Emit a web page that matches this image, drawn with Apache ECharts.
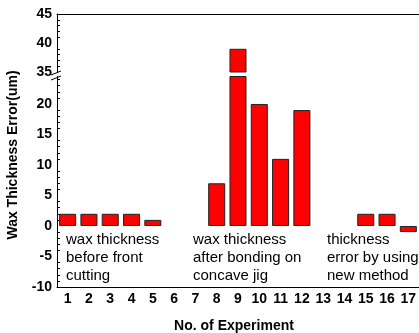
<!DOCTYPE html>
<html>
<head>
<meta charset="utf-8">
<script src="https://cdn.jsdelivr.net/npm/echarts@6/dist/echarts.min.js"></script>
<style>
  html, body { margin: 0; padding: 0; background: #fff; }
  #chart { width: 419px; height: 333px; }
</style>
</head>
<body>
<div id="chart"></div>
<script>
// experiment numbers and measured wax thickness error (um)
var experiments = ['1', '2', '3', '4', '5', '6', '7', '8', '9', '10', '11', '12', '13', '14', '15', '16', '17'];
var thicknessError = [2, 2, 2, 2, 1, '-', '-', 7, 39, 20, 11, 19, '-', '-', 2, 2, -1];
var lowerTicks = [-10, -5, 0, 5, 10, 15, 20];
var upperTicks = [35, 40, 45];
var groupNotes = [
  'wax thickness\nbefore front\ncutting',
  'wax thickness\nafter bonding on\nconcave jig',
  'thickness\nerror by using\nnew method'
];

// axis break: lower part -10..24.5, upper part 35..45
var lowerMax = 24.5;
var upperMin = 35;
var upperValues = thicknessError.map(function (v) { return (v !== '-' && v > upperMin) ? v : '-'; });

var font = 'Liberation Sans, Arial, sans-serif';

var chart = echarts.init(document.getElementById('chart'));

var tickLabel = function (ticks) {
  return {
    fontFamily: font, fontWeight: 'bold', fontSize: 14, color: '#000', margin: 5,
    formatter: function (v) { return ticks.indexOf(v) >= 0 ? String(v) : ''; }
  };
};

var option = {
  animation: false,
  grid: [
    { left: 57, right: -4.5, top: 14, height: 58 },
    { left: 57, right: -4.5, top: 76.5, bottom: 46 }
  ],
  xAxis: [
    { gridIndex: 0, type: 'category', data: experiments, position: 'top',
      axisLine: { lineStyle: { color: '#000', width: 1 } },
      axisTick: { show: false }, axisLabel: { show: false } },
    { gridIndex: 1, type: 'category', data: experiments, position: 'bottom',
      axisLine: { onZero: false, lineStyle: { color: '#000', width: 1 } },
      axisTick: { inside: true, length: 3, lineStyle: { color: '#000' } },
      axisLabel: { fontFamily: font, fontWeight: 'bold', fontSize: 14, color: '#000', margin: 5 } },
    { gridIndex: 1, type: 'category', data: experiments, position: 'bottom',
      axisLine: { show: false },
      axisTick: { inside: true, alignWithLabel: true, length: 4, lineStyle: { color: '#000' } },
      axisLabel: { show: false } }
  ],
  yAxis: [
    { gridIndex: 0, type: 'value', min: upperMin, max: 45, interval: 5,
      splitLine: { show: false },
      axisLine: { show: true, lineStyle: { color: '#000' } },
      axisTick: { inside: true, length: 5, lineStyle: { color: '#000' } },
      minorTick: { show: true, splitNumber: 5, length: 3, lineStyle: { color: '#000' } },
      axisLabel: tickLabel(upperTicks) },
    { gridIndex: 1, type: 'value', min: -10, max: lowerMax, interval: 5,
      splitLine: { show: false },
      axisLine: { show: true, onZero: false, lineStyle: { color: '#000' } },
      axisTick: { inside: true, length: 5, lineStyle: { color: '#000' } },
      minorTick: { show: true, splitNumber: 5, length: 3, lineStyle: { color: '#000' } },
      axisLabel: tickLabel(lowerTicks) }
  ],
  series: [
    { type: 'bar', xAxisIndex: 1, yAxisIndex: 1, data: thicknessError, clip: true,
      barCategoryGap: '20%',
      itemStyle: { color: '#ff0000', borderColor: '#222', borderWidth: 1 } },
    { type: 'bar', xAxisIndex: 0, yAxisIndex: 0, data: upperValues, clip: true,
      barCategoryGap: '20%',
      itemStyle: { color: '#ff0000', borderColor: '#222', borderWidth: 1 } }
  ],
  graphic: [
    { type: 'text', x: 13, y: 155, rotation: Math.PI / 2,
      style: { text: 'Wax Thickness Error(um)', fontFamily: font, fontWeight: 'bold', fontSize: 14,
               fill: '#000', align: 'center', verticalAlign: 'middle' } },
    { type: 'text', x: 234, y: 326,
      style: { text: 'No. of Experiment', fontFamily: font, fontWeight: 'bold', fontSize: 14,
               fill: '#000', align: 'center', verticalAlign: 'middle' } },
    { type: 'line', shape: { x1: 51, y1: 75, x2: 61, y2: 71 }, style: { stroke: '#000', lineWidth: 1 } },
    { type: 'line', shape: { x1: 51, y1: 80, x2: 61, y2: 76 }, style: { stroke: '#000', lineWidth: 1 } },
    { type: 'text', x: 66, y: 231,
      style: { text: groupNotes[0], fontFamily: font, fontSize: 15, lineHeight: 18, fill: '#000' } },
    { type: 'text', x: 193, y: 231,
      style: { text: groupNotes[1], fontFamily: font, fontSize: 15, lineHeight: 18, fill: '#000' } },
    { type: 'text', x: 327, y: 231,
      style: { text: groupNotes[2], fontFamily: font, fontSize: 15, lineHeight: 18, fill: '#000' } }
  ]
};

chart.setOption(option);
</script>
</body>
</html>
